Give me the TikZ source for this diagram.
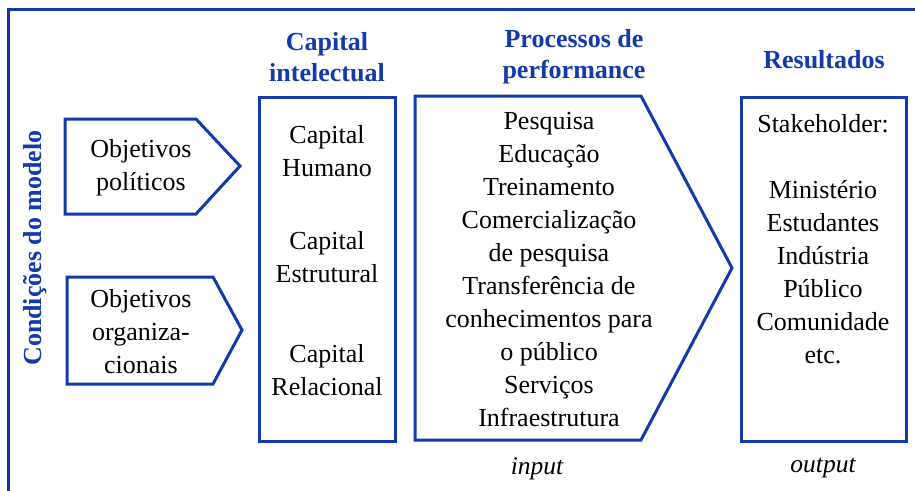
\documentclass[tikz,border=0pt]{standalone}
\usepackage{fontspec}
\setmainfont{Liberation Serif}
\definecolor{fblue}{RGB}{18,58,170}
\begin{document}
\begin{tikzpicture}[x=1pt,y=-1pt,
  frame/.style={draw=fblue,line width=3pt,line join=miter},
  body/.style={font=\fontsize{26}{33}\selectfont,align=center,inner sep=0pt},
  head/.style={font=\fontsize{26}{31}\selectfont\bfseries,text=fblue,align=center,inner sep=0pt},
  note/.style={font=\fontsize{25.5}{28}\selectfont\itshape,inner sep=0pt}]
\useasboundingbox (0,0) rectangle (915,490);
% outer frame
\draw[frame] (8,495) -- (8,9) -- (920,9);
% vertical title
\node[head,rotate=90] (cond) at (35,248) {Condições do modelo};
% objectives
\draw[frame] (65,119) -- (196,119) -- (240,166) -- (196,214) -- (65,214) -- cycle;
\node[body] (op) at (141,168) {Objetivos\\políticos};
\draw[frame] (67,277) -- (213,277) -- (242,330) -- (213,384) -- (67,384) -- cycle;
\node[body] (oo) at (141,332) {Objetivos\\organiza-\\cionais};
% capital intelectual
\node[head] (hci) at (327,57) {Capital\\intelectual};
\draw[frame] (259,97) rectangle (395,441);
\node[body] (ch) at (327,151) {Capital\\Humano};
\node[body] (ce) at (327,257) {Capital\\Estrutural};
\node[body] (cr) at (327,370) {Capital\\Relacional};
% processos
\node[head] (hpp) at (574,57) {Processos de\\performance};
\draw[frame] (415,96) -- (641,96) -- (732,268) -- (641,440) -- (415,440) -- cycle;
\node[body] (pp) at (549,270) {Pesquisa\\Educação\\Treinamento\\Comercialização\\de pesquisa\\Transferência de\\conhecimentos para\\o público\\Serviços\\Infraestrutura};
\node[note] (in) at (537,469) {input};
% resultados
\node[head] (hr) at (824,60) {Resultados};
\draw[frame] (741,97) rectangle (906,441);
\node[body] (st) at (823,124) {Stakeholder:};
\node[body] (rs) at (823,272) {Ministério\\Estudantes\\Indústria\\Público\\Comunidade\\etc.};
\node[note] (out) at (823,468) {output};
\end{tikzpicture}
\end{document}
